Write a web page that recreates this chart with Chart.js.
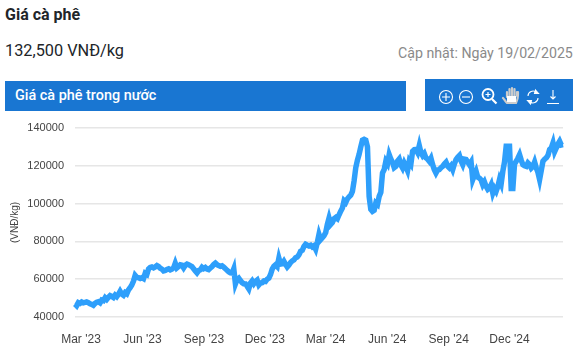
<!DOCTYPE html>
<html><head><meta charset="utf-8">
<style>
html,body{margin:0;padding:0;background:#fff;width:588px;height:356px;overflow:hidden;font-family:Roboto,sans-serif}
.t{position:absolute;white-space:nowrap;line-height:1}
.bar{position:absolute;background:#1976d2}
canvas{position:absolute;left:0;top:0}
svg{position:absolute;left:425px;top:79px}
</style></head><body>
<div class="t" style="left:5px;top:7px;font-size:16px;font-weight:700;color:#212529">Giá cà phê</div>
<div class="t" style="left:5px;top:43px;font-size:16.3px;color:#212529">132,500 VNĐ/kg</div>
<div class="t" style="left:398px;top:46px;font-size:14.2px;color:#8a8a8a">Cập nhật: Ngày 19/02/2025</div>
<div class="bar" style="left:5px;top:81px;width:401px;height:30px"></div>
<div class="t" style="left:15px;top:89px;font-size:14.4px;font-weight:500;color:#fff">Giá cà phê trong nước</div>
<div class="bar" style="left:425px;top:79px;width:148px;height:32px"></div>
<svg width="148" height="32" fill="none" stroke="#fff" stroke-width="1.1">
<circle cx="21" cy="18" r="6.5"/><path d="M17 18h8M21 14v8"/>
<circle cx="41" cy="18" r="6.5"/><path d="M37 18h8"/>
<circle cx="63" cy="15.500" r="5.5" stroke-width="1.8"/><path d="M60.500 15.500h5M63 13v5" stroke-width="1.2"/><path d="M67 20l4.500 4.500" stroke-width="2.2"/>
<path d="M78 19c1 1 2 3 4 5h9c1-2 2-5 2-8v-3M84.500 17v-7M87 17v-8M89.500 17v-7M92 17v-4M82 18v-5" stroke="#ccc" stroke-width="2.2" stroke-linecap="round"/>
<path d="M82 20h9" stroke="#fff" stroke-width="6"/>
<path d="M103 17a5 5 0 0 1 8.500-3.500M113 19a5 5 0 0 1-8.500 3.500"/><path d="M110.500 11l3 3.500h-4zM105.500 25l-3-3.500h4z" fill="#fff"/>
<path d="M128 11v9M125.500 17.500l2.500 2.500 2.500-2.500M122 24.500h12"/>
</svg>
<canvas id="c" width="588" height="356" style="width:588px;height:356px"></canvas>
<script src="https://cdn.jsdelivr.net/npm/chart.js@4/dist/chart.umd.min.js"></script>
<script>
const startDate = "2023-02-20";
const stepDays = 2.5;
const axisMin = 40000, axisMax = 140000, axisStep = 20000;
const tickMonths = ["2023-03-01","2023-06-01","2023-09-01","2023-12-01","2024-03-01","2024-06-01","2024-09-01","2024-12-01"];
const tickLabels = ["Mar '23","Jun '23","Sep '23","Dec '23","Mar '24","Jun '24","Sep '24","Dec '24"];
const prices = [
46900,46000,47600,47200,47900,47500,47700,48000,47600,47000,46700,46200,47200,47800,48100,47500,49000,48700,50200,49300,
50400,51300,50900,50300,51600,50800,52000,53600,52100,51500,52900,52300,54300,55500,56900,59000,62000,61000,60800,60400,
60800,60300,63100,62500,65400,66200,66500,66000,66500,67200,66700,65800,65300,64400,64600,65200,65500,64900,65300,66000,
68500,66000,66700,67600,67400,66000,67400,68000,67600,67200,66700,65500,64400,63400,64600,65000,66300,65600,66200,65400,
65100,65900,66700,67800,68500,67700,67200,66800,67100,66400,65600,64700,63900,63300,63200,65500,57500,59800,60500,59300,
58200,57600,57500,56300,54900,58000,59100,57600,58800,59500,57000,58000,58200,59000,58800,60000,60600,62500,65300,66800,
67600,66700,71100,68000,68200,69500,67900,66500,67500,68800,69700,70200,71400,71800,72900,74800,75300,77300,78500,78000,
77600,78000,77100,77700,75900,79500,83700,81000,82000,83000,84700,89000,92300,89000,90000,92000,92700,92000,94100,96000,
97600,101500,100600,102500,103600,104500,106400,112000,119000,123000,126100,130000,133600,134000,133600,130000,103800,97000,95900,96500,
100300,99500,103800,106000,116200,118000,122400,121000,125900,123500,121900,119000,119700,122500,123600,120500,118900,121500,119700,117500,
122400,121000,127700,128500,128600,127000,130700,127000,125400,126500,124200,123500,122400,124000,120600,118000,116200,117800,118000,119000,
119700,121000,121900,119800,118900,120000,118000,121000,123300,124500,125400,122500,120600,123500,123300,122000,120600,122000,112700,115000,
117100,114000,113500,112500,110000,111500,109100,107500,108200,110000,105600,108000,106500,109000,112700,110500,117100,122000,130300,130300,
130300,108000,108000,121000,122400,124000,125900,123000,120600,120000,119700,121500,120600,118800,119700,122000,118900,116500,112700,117500,
122400,123500,124200,125500,128600,129500,132100,127500,129500,131500,133000,131000,131200
];
const toMs = s => Date.parse(s + "T00:00:00Z");
const DAY = 86400000;
const points = prices.map((v, i) => ({x: toMs(startDate) + i * stepDays * DAY, y: v}));
new Chart(document.getElementById("c"), {
  type: "line",
  data: {datasets: [{data: points, borderColor: "#2e9ffb", borderWidth: 5.5, pointRadius: 0, tension: 0, clip: false, borderJoinStyle: "miter", borderCapStyle: "butt"}]},
  options: {
    responsive: false, animation: false,
    layout: {padding: {left: 0, right: 25, top: 128, bottom: 0}},
    plugins: {legend: {display: false}, tooltip: {enabled: false}},
    scales: {
      x: {
        type: "linear",
        min: points[0].x, max: points[points.length - 1].x,
        afterBuildTicks: s => { s.ticks = tickMonths.map(m => ({value: toMs(m)})); },
        afterFit: s => { s.height = 39; },
        grid: {display: false}, border: {display: false},
        ticks: {
          autoSkip: false, maxRotation: 0, padding: 7, color: "#444",
          font: {family: "'Liberation Sans'", size: 12},
          callback: v => tickLabels[tickMonths.findIndex(m => toMs(m) === v)]
        }
      },
      y: {
        min: axisMin, max: axisMax,
        afterFit: s => { s.width = 75; },
        grid: {color: "#e6e6e6", lineWidth: 1.5, drawTicks: false}, border: {display: false},
        ticks: {stepSize: axisStep, padding: 11, color: "#444", font: {family: "'Liberation Sans'", size: 11}, callback: v => String(v)},
        title: {display: true, text: "(VNĐ/kg)", color: "#444", padding: {top: 9, bottom: 0}, font: {family: "'Liberation Sans'", size: 10}}
      }
    }
  }
});
</script>
</body></html>
